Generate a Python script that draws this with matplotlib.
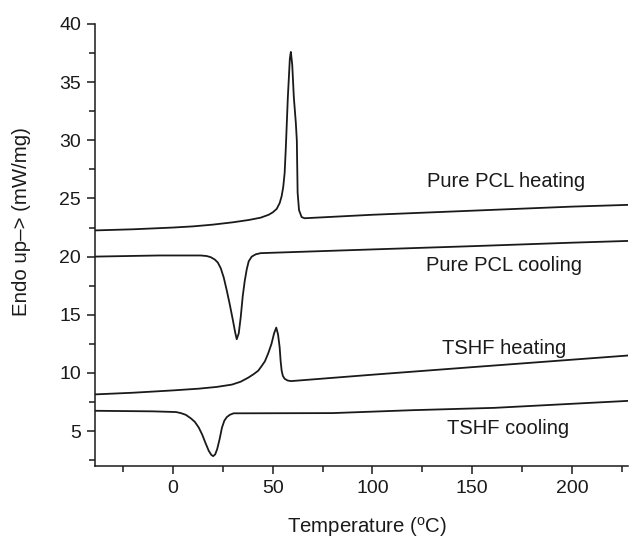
import matplotlib.pyplot as plt
import numpy as np

plt.rcParams['font.family'] = ['Liberation Sans', 'DejaVu Sans']

# DSC traces (temperature in C, heat flow in mW/mg)
pcl_heat_t = [-40, -20, 0, 10, 20, 30, 38, 44, 48, 50, 52, 53.5, 54.5, 55.3, 56, 56.6, 57.6,
              58.6, 59.1, 59.8, 60.6, 61.6, 62.1, 62.5, 63.2, 64.5, 66, 100, 150, 200, 228]
pcl_heat_y = [22.25, 22.35, 22.5, 22.6, 22.75, 22.95, 23.15, 23.35, 23.6, 23.8, 24.1, 24.6, 25.2,
              26.0, 27.2, 29.4, 33.7, 37.0, 37.6, 36.5, 33.7, 31.5, 30.0, 25.5, 24.0, 23.4, 23.3,
              23.6, 23.95, 24.3, 24.45]

pcl_cool_t = [-40, -7, 14, 17, 19, 21, 22.5, 24, 25.5, 27, 28.5, 30, 31.2, 32, 33, 34, 35, 36,
              37, 38, 39.5, 41.5, 44, 100, 150, 200, 228]
pcl_cool_y = [20.0, 20.1, 20.1, 20.05, 19.95, 19.75, 19.5, 19.0, 18.2, 17.1, 15.9, 14.6, 13.5,
              12.9, 13.4, 14.8, 16.6, 17.9, 18.9, 19.6, 20.0, 20.2, 20.3, 20.62, 20.9, 21.2, 21.35]

tshf_heat_t = [-40, -20, 0, 13, 22, 29.6, 34, 37.8, 40.5, 42.8, 44.5, 46.1, 47.8, 49.4, 50.7,
               51.8, 52.7, 53.5, 54.0, 54.5, 55.1, 56, 57.5, 59.2, 100, 150, 228]
tshf_heat_y = [8.15, 8.3, 8.5, 8.65, 8.8, 9.0, 9.25, 9.6, 9.9, 10.2, 10.6, 11.0, 11.7, 12.5, 13.4,
               13.9, 13.3, 12.2, 11.0, 10.2, 9.75, 9.5, 9.35, 9.3, 9.85, 10.5, 11.5]

tshf_cool_t = [-40, -10, 1.6, 4, 6.5, 9, 11, 13, 14.7, 16.3, 18, 19.3, 20.2, 21.2, 22.2, 23.4,
               24.6, 25.8, 27, 28.5, 30.4, 80, 120, 161, 200, 228]
tshf_cool_y = [6.75, 6.7, 6.64, 6.55, 6.4, 6.1, 5.8, 5.3, 4.7, 4.0, 3.3, 2.95, 2.85, 3.0, 3.45,
               4.3, 5.3, 5.9, 6.2, 6.4, 6.53, 6.55, 6.8, 7.0, 7.35, 7.6]

labels = ["Pure PCL heating", "Pure PCL cooling", "TSHF heating", "TSHF cooling"]
label_x = [167, 166, 166, 168]
label_y = [26.5, 19.2, 12.1, 5.2]

fig = plt.figure(figsize=(6.35, 5.39), dpi=100)
ax = fig.add_axes([0.1496, 0.1354, 0.8394, 0.8201])

traces = [(pcl_heat_t, pcl_heat_y), (pcl_cool_t, pcl_cool_y),
          (tshf_heat_t, tshf_heat_y), (tshf_cool_t, tshf_cool_y)]
for t, y in traces:
    ax.plot(t, y, color='#1a1a1a', linewidth=1.3, solid_joinstyle='round')

for lab, lx, ly in zip(labels, label_x, label_y):
    ax.text(lx, ly, lab, ha='center', va='center', fontsize=14.5, color='#1a1a1a')

ax.set_xlim(-39, 228)
ax.set_ylim(2, 40)
ax.set_xticks([0, 50, 100, 150, 200])
ax.set_xticks(np.arange(-25, 230, 50), minor=True)
ax.set_yticks([5, 10, 15, 20, 25, 30, 35, 40])
ax.set_yticks(np.arange(2.5, 40, 5), minor=True)

for side in ['top', 'right']:
    ax.spines[side].set_visible(False)
for side in ['left', 'bottom']:
    ax.spines[side].set_linewidth(1.1)
    ax.spines[side].set_color('#1a1a1a')

ax.tick_params(which='major', direction='out', length=6, width=1.1, labelsize=14,
               colors='#1a1a1a', pad=4)
ax.tick_params(which='minor', direction='out', length=4, width=1.1, colors='#1a1a1a')

ax.set_xlabel("Temperature ($^\\mathregular{o}$C)", fontsize=14.7, color='#1a1a1a')
ax.set_ylabel("Endo up\u2013> (mW/mg)", fontsize=14.7, color='#1a1a1a')
ax.xaxis.set_label_coords(0.51, -0.138)
ax.yaxis.set_label_coords(-0.137, 0.552)
for lbl in [ax.xaxis.label, ax.yaxis.label]:
    lbl.set_va('center')

fig.savefig("out.png", dpi=100)
